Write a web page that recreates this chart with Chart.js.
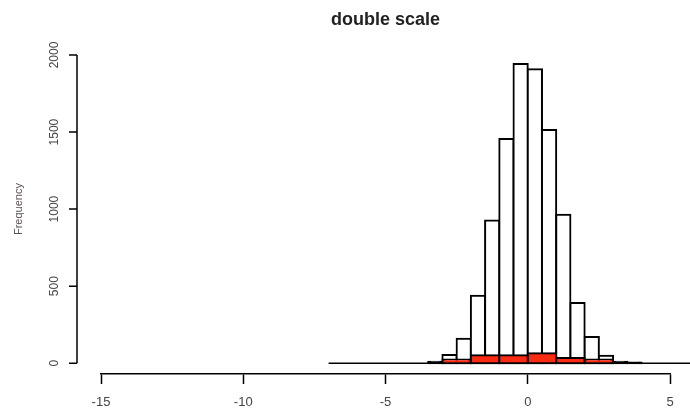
<!DOCTYPE html>
<html>
<head>
<meta charset="utf-8">
<script src="https://cdn.jsdelivr.net/npm/chart.js@4.4.1/dist/chart.umd.min.js"></script>
<style>
  html, body { margin: 0; padding: 0; background: #fff; }
  canvas { display: block; }
</style>
</head>
<body>
<canvas id="hist" width="690" height="413"></canvas>
<script>
// histogram data
var chartTitle = "double scale";
var yTitle = "Frequency";

// white histogram, bin width 0.5 (bin centres)
var whiteMids = [-3.25, -2.75, -2.25, -1.75, -1.25, -0.75, -0.25, 0.25, 0.75, 1.25, 1.75, 2.25, 2.75, 3.25, 3.75];
var whiteCounts = [10, 53, 159, 437, 926, 1455, 1942, 1907, 1514, 963, 390, 170, 49, 9, 5];

// red histogram, bin width 1 (bin centres)
var redMids = [-2.5, -1.5, -0.5, 0.5, 1.5, 2.5];
var redCounts = [24, 52, 52, 65, 34, 24];

// zero line under the histograms
var baseX = [-7, 5.75];
var baseY = [0, 0];

var xTicksStep = 5;
var yTicks = [0, 500, 1000, 1500, 2000];

function toPoints(xs, ys) {
    return xs.map(function (x, i) { return { x: x, y: ys[i] }; });
}

// very flat bars end up as a solid outline, like R does
function barFill(color) {
    return function (context) {
        var chart = context.chart;
        if (!chart.scales || !chart.scales.y || !context.parsed) return color;
        var y = chart.scales.y;
        var h = Math.abs(y.getPixelForValue(context.parsed.y) - y.getPixelForValue(0));
        return h < 2.5 ? '#000' : color;
    };
}

// R style y axis: detached line, rotated labels
var rAxisY = {
    id: 'rAxisY',
    afterDraw: function (chart) {
        var ctx = chart.ctx;
        var area = chart.chartArea;
        var y = chart.scales.y;
        var ax = area.left - 24;
        var top = y.getPixelForValue(yTicks[yTicks.length - 1]);
        var bot = y.getPixelForValue(yTicks[0]);
        ctx.save();
        ctx.strokeStyle = '#000';
        ctx.lineWidth = 1.5;
        ctx.beginPath();
        ctx.moveTo(ax, top);
        ctx.lineTo(ax, bot);
        yTicks.forEach(function (v) {
            var py = y.getPixelForValue(v);
            ctx.moveTo(ax, py);
            ctx.lineTo(ax - 8, py);
        });
        ctx.stroke();

        ctx.fillStyle = '#444';
        ctx.font = '12px "Liberation Sans", Arial, sans-serif';
        ctx.textAlign = 'center';
        ctx.textBaseline = 'middle';
        yTicks.forEach(function (v) {
            var py = y.getPixelForValue(v);
            ctx.save();
            ctx.translate(ax - 22, py);
            ctx.rotate(-Math.PI / 2);
            ctx.fillText(String(v), 0, 0);
            ctx.restore();
        });

        ctx.save();
        ctx.translate(19, (top + bot) / 2);
        ctx.rotate(-Math.PI / 2);
        ctx.fillStyle = '#5a5252';
        ctx.font = '11px "Liberation Sans", Arial, sans-serif';
        ctx.fillText(yTitle, 0, 0);
        ctx.restore();
        ctx.restore();
    }
};

var histChart = new Chart(document.getElementById('hist'), {
    type: 'bar',
    data: {
        datasets: [
            {
                type: 'bar',
                label: 'red',
                data: toPoints(redMids, redCounts),
                xAxisID: 'x2',
                grouped: false,
                backgroundColor: '#fb2a12',
                borderColor: '#000',
                borderWidth: 2,
                borderSkipped: false,
                inflateAmount: 1,
                barPercentage: 1,
                categoryPercentage: 1,
                order: 1
            },
            {
                type: 'bar',
                label: 'white',
                data: toPoints(whiteMids, whiteCounts),
                xAxisID: 'x',
                grouped: false,
                backgroundColor: barFill('#fff'),
                borderColor: '#000',
                borderWidth: 2,
                borderSkipped: false,
                inflateAmount: 1,
                barPercentage: 1,
                categoryPercentage: 1,
                order: 2
            },
            {
                type: 'line',
                label: 'base',
                data: toPoints(baseX, baseY),
                xAxisID: 'x',
                borderColor: '#000',
                borderWidth: 1.5,
                pointRadius: 0,
                clip: false,
                order: 3
            }
        ]
    },
    options: {
        responsive: false,
        animation: false,
        layout: {
            padding: { top: 0, left: 101, right: 20, bottom: -8.6 }
        },
        scales: {
            x: {
                type: 'linear',
                position: 'bottom',
                min: -15,
                max: 5,
                offset: false,
                grid: {
                    display: true,
                    drawOnChartArea: false,
                    drawTicks: true,
                    tickLength: 10,
                    tickWidth: 1.5,
                    tickColor: '#000',
                    offset: false
                },
                border: { display: true, color: '#000', width: 1.5 },
                ticks: {
                    stepSize: xTicksStep,
                    padding: 11,
                    maxRotation: 0,
                    color: '#444',
                    font: { family: '"Liberation Sans", Arial, sans-serif', size: 13 }
                }
            },
            x2: {
                type: 'linear',
                position: 'bottom',
                display: false,
                min: -15,
                max: 5,
                offset: false,
                ticks: { stepSize: xTicksStep }
            },
            y: {
                type: 'linear',
                display: false,
                min: -70,
                max: 2000
            }
        },
        plugins: {
            legend: { display: false },
            tooltip: { enabled: false },
            title: {
                display: true,
                text: chartTitle,
                fullSize: false,
                color: '#222',
                font: { family: '"Liberation Sans", Arial, sans-serif', size: 18, weight: 'bold' },
                padding: { top: 9, bottom: 24.4 }
            }
        }
    },
    plugins: [rAxisY]
});
</script>
</body>
</html>
